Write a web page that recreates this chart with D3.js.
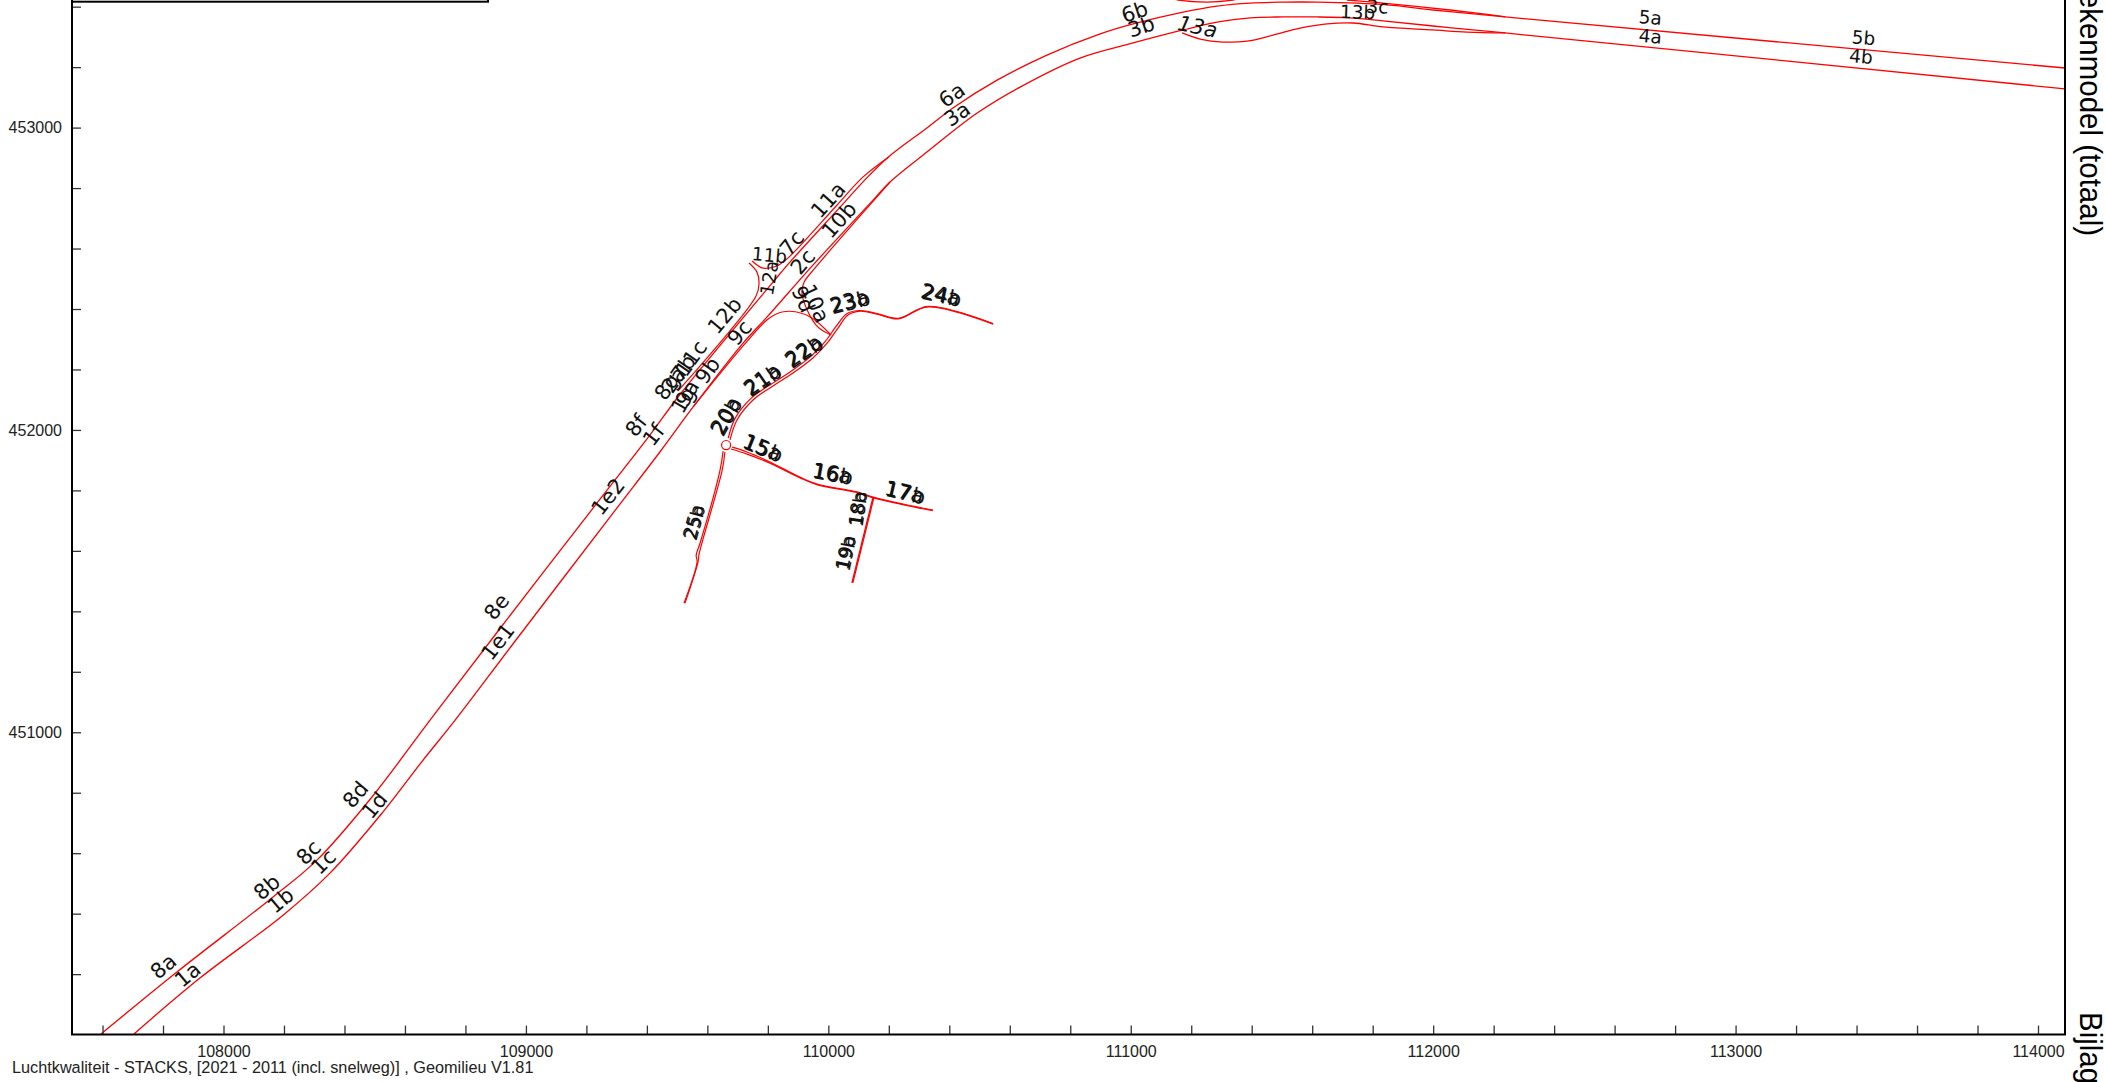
<!DOCTYPE html>
<html>
<head>
  <meta charset="utf-8">
  <script src="https://d3js.org/d3.v7.min.js"></script>
  <style>
    html, body { margin: 0; padding: 0; background: #fff; overflow: hidden; }
    svg { display: block; }
    .roads path { fill: none; stroke: #ff0000; stroke-linejoin: round; }
    .names text { font-family: "DejaVu Sans", sans-serif; fill: #111; text-anchor: middle; dominant-baseline: central; }
    .axis text { font-family: "Liberation Sans", Arial, sans-serif; font-size: 16px; fill: #222; }
    .axis line { stroke: #333; stroke-width: 1.3px; }
    .axis path { display: none; }
  </style>
</head>
<body>
<script>
// RD coordinates, [x, y] in metres
var mainNorth = [[107595,450002],[107846,450207],[108160,450452],[108309,450577],[108491,450786],[108683,451040],[108908,451335],[109245,451771],[109410,451983],[109510,452118],[109817,452489],[109873,452555],[110039,452737],[110121,452827],[110194,452899],[110326,452999],[110412,453065],[110558,453157],[110723,453240],[110899,453310],[111008,453343],[111173,453382],[111285,453402],[111395,453412],[111504,453415],[111616,453415],[111848,453406],[112000,453389],[112238,453366],[114090,453197]];
var mainSouth = [[107704,450002],[107922,450187],[108197,450395],[108352,450534],[108527,450736],[108660,450908],[108766,451040],[108957,451292],[109288,451725],[109443,451927],[109553,452076],[109718,452287],[109797,452373],[109949,452545],[110148,452760],[110204,452820],[110326,452919],[110492,453048],[110634,453134],[110832,453230],[111008,453280],[111173,453323],[111285,453349],[111395,453363],[111504,453366],[111616,453366],[111725,453363],[111834,453353],[112000,453336],[112238,453313],[114090,453128]];

var ramp9 = [[109553,452076],[109721,452281],[109801,452367],[109847,452390],[109896,452390],[109946,452370],[110009,452314]];
var ramp10 = [[110204,452820],[110108,452711],[109959,452539],[109920,452489],[109913,452453],[109930,452397],[109966,452340],[110009,452314]];
var ramp11 = [[110200,452903],[110115,452837],[110029,452744],[109867,452569],[109830,452542],[109807,452536],[109781,452536],[109748,452559]];
var ramp12 = [[109503,452129],[109761,452443],[109771,452486],[109764,452522],[109738,452552]];
var ramp13 = [[111170,453313],[111229,453293],[111305,453283],[111385,453286],[111471,453306],[111560,453329],[111649,453343],[111735,453346],[111834,453333],[112000,453323],[112112,453316],[112238,453313]];
var ramp14a = [[111130,453429],[111157,453422],[111252,453415],[111338,453422],[111428,453442]];
var ramp14b = [[111715,453422],[111834,453412],[112056,453389],[112165,453376],[112238,453366]];

var road20a = [[109669,451973],[109692,452039],[109745,452105],[109801,452145],[109877,452194],[109943,452244],[109990,452293],[110026,452343],[110062,452385],[110105,452395],[110161,452385],[110231,452369],[110330,452409],[110545,452352]];
var road20b = [[109675,451967],[109698,452033],[109751,452099],[109807,452139],[109883,452188],[109949,452238],[109996,452287],[110032,452337],[110065,452380],[110105,452393],[110161,452383],[110231,452367],[110330,452407],[110545,452350]];
var road15a = [[109682,451943],[109731,451927],[109807,451894],[109906,451844],[109963,451821],[110095,451795],[110148,451778],[110247,451755],[110346,451735]];
var road15b = [[109678,451937],[109729,451921],[109805,451891],[109905,451842],[109962,451819],[110094,451793],[110147,451776],[110246,451753],[110345,451733]];
var road18a = [[110148,451778],[110078,451494]];
var road18b = [[110151,451778],[110081,451494]];
var road25a = [[109652,451930],[109642,451867],[109576,451626],[109563,451586],[109566,451563],[109523,451427]];
var road25b = [[109658,451927],[109649,451867],[109582,451626],[109572,451586],[109569,451563],[109526,451427]];

var roundabout = [109662, 451950];
var roundaboutRadius = 15;

// single names: [name, x, y, angle]
var roadNames = [["8a",107802,450225,-40],["1a",107882,450198,-40],["8b",108144,450487,-40],["1b",108189,450443,-40],["8c",108282,450602,-45],["1c",108331,450571,-45],["8d",108437,450793,-50],["1d",108500,450758,-50],["8e",108904,451415,-52],["1e1",108908,451299,-52],["1e2",109272,451779,-52],["8f",109365,452014,-52],["1f",109423,451983,-52],["12b",109658,452378,-50],["9c",109707,452321,-50],["11a",110000,452760,-48],["10b",110036,452694,-48],["6a",110409,453107,-35],["3a",110426,453044,-35],["6b",111013,453382,-18],["3b",111035,453333,-18],["13a",111221,453333,12],["13b",111750,453382,2],["3c",111816,453400,2],["5a",112718,453364,5],["4a",112718,453302,5],["5b",113423,453297,5],["4b",113415,453235,5],["11b",109805,452578,5],["7c",109880,452618,-50],["2c",109916,452556,-50],["12a",109805,452503,-80],["8g",109467,452143,-55],["2a",109490,452165,-55],["7b",109521,452205,-55],["11c",109547,452236,-55],["1g",109521,452099,-60],["9a",109534,452121,-60],["9b",109601,452196,-55],["9d",109916,452432,65],["10a",109956,452418,65]];
// names of the a/b pairs, both drawn on nearly the same spot
var pairNames = [["20",109663,452045,-60],["21",109783,452165,-35],["22",109920,452259,-35],["23",110071,452423,-15],["24",110373,452445,12],["15",109783,451939,22],["16",110014,451854,10],["17",110253,451792,13],["18",110098,451739,-82],["19",110058,451593,-78],["25",109556,451695,-75]];

var axisMinorX = d3.range(107600, 114001, 200);
var axisMinorY = d3.range(450200, 453401, 200);
var footer = "Luchtkwaliteit - STACKS, [2021 - 2011 (incl. snelweg)] , Geomilieu V1.81";
var titleBottom = "Bijlage";
var titleTop = "Rekenmodel (totaal)";

var width = 2105, height = 1082;
var left = 72, right = 2065, bottom = 1034.6;

var x = d3.scaleLinear().domain([108000, 114000]).range([223.5, 2038]);
var y = d3.scaleLinear().domain([450000, 453000]).range([bottom, 127.6]);

var svg = d3.select("body").append("svg")
    .attr("width", width)
    .attr("height", height);

svg.append("clipPath").attr("id", "plot")
  .append("rect")
    .attr("x", left).attr("y", -10)
    .attr("width", right - left).attr("height", bottom + 10);

var line = d3.line()
    .x(function(d) { return x(d[0]); })
    .y(function(d) { return y(d[1]); })
    .curve(d3.curveCatmullRom.alpha(0.5));

var roads = svg.append("g").attr("class", "roads").attr("clip-path", "url(#plot)");

function addRoads(list, w) {
  roads.selectAll(null)
      .data(list)
    .enter().append("path")
      .attr("d", line)
      .style("stroke-width", w + "px");
}

addRoads([mainNorth, mainSouth, ramp13, ramp14a, ramp14b], 1.3);
addRoads([ramp9, ramp10, ramp11, ramp12], 1.2);
addRoads([road20a, road20b, road15a, road15b, road25a, road25b], 1.2);
addRoads([road18a, road18b], 1.3);

roads.append("circle")
    .attr("cx", x(roundabout[0]))
    .attr("cy", y(roundabout[1]))
    .attr("r", x(roundabout[0] + roundaboutRadius) - x(roundabout[0]))
    .style("fill", "#fff")
    .style("stroke", "#ff0000")
    .style("stroke-width", "1.2px");

// axes
var xAxis = d3.axisBottom(x)
    .tickValues(axisMinorX)
    .tickSizeInner(-9)
    .tickSizeOuter(0)
    .tickPadding(11)
    .tickFormat(function(d) { return d % 1000 === 0 ? d : ""; });
svg.append("g").attr("class", "axis")
    .attr("transform", "translate(0," + bottom + ")")
    .call(xAxis);

var yAxis = d3.axisLeft(y)
    .tickValues(axisMinorY)
    .tickSizeInner(-9)
    .tickSizeOuter(0)
    .tickPadding(10)
    .tickFormat(function(d) { return d % 1000 === 0 ? d : ""; });
svg.append("g").attr("class", "axis")
    .attr("transform", "translate(" + left + ",0)")
    .call(yAxis);

// frame
svg.append("path")
    .attr("d", "M" + left + ",0V" + bottom + "H" + right + "V0")
    .style("fill", "none")
    .style("stroke", "#000")
    .style("stroke-width", "2px");

// empty legend box, cut off by the top of the page
svg.append("rect")
    .attr("x", left).attr("y", -20)
    .attr("width", 416).attr("height", 21.7)
    .style("fill", "none")
    .style("stroke", "#000")
    .style("stroke-width", "2px");

// road names, the ones on a slant come out larger in the original
var names = svg.append("g").attr("class", "names");

function addName(d, text, shift) {
  var px = x(d[1]) + shift, py = y(d[2]) + shift;
  var a = Math.abs(d[3]);
  names.append("text")
      .attr("transform", "translate(" + px + "," + py + ") rotate(" + d[3] + ")")
      .style("font-size", (a < 8 || a >= 75 ? 18.5 : 21) + "px")
      .style("font-style", text === "13a" ? "oblique" : "normal")
      .text(text);
}

roadNames.forEach(function(d) { addName(d, d[0], 0); });
pairNames.forEach(function(d) {
  addName(d, d[0] + "a", -0.6);
  addName(d, d[0] + "b", 0.6);
});

svg.append("text")
    .attr("x", 12).attr("y", 1073)
    .style("font-family", "'Liberation Sans', Arial, sans-serif")
    .style("font-size", "16.25px")
    .style("fill", "#222")
    .text(footer);

// page titles along the right edge
[[titleTop, 236, "end"], [titleBottom, 1012, "start"]].forEach(function(t) {
  svg.append("text")
      .attr("transform", "translate(2080," + t[1] + ") rotate(90) scale(1,1.07)")
      .style("font-family", "'Liberation Sans', Arial, sans-serif")
      .style("font-size", "29.5px")
      .style("text-anchor", t[2])
      .style("fill", "#000")
      .text(t[0]);
});
</script>
</body>
</html>
